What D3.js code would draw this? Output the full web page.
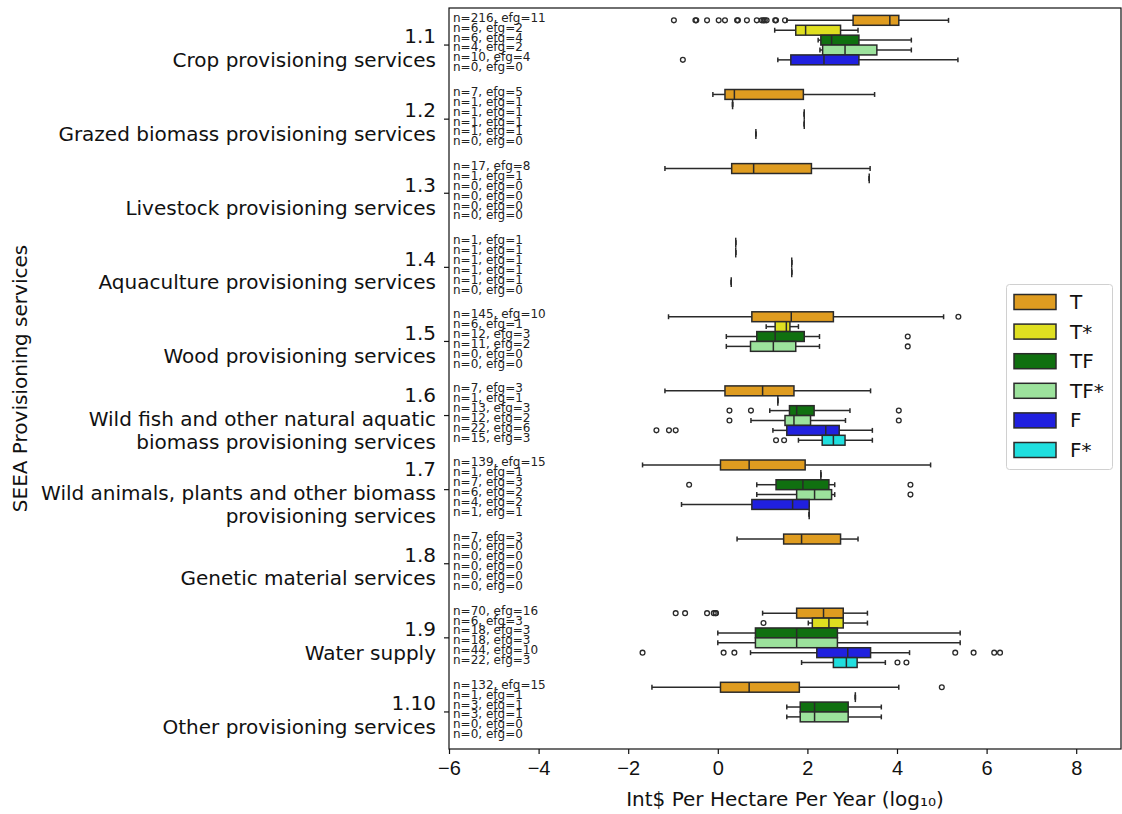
<!DOCTYPE html>
<html>
<head>
<meta charset="utf-8">
<script src="https://cdn.jsdelivr.net/npm/d3@7"></script>
<style>
  body { margin: 0; background: #fff; }
  svg { font-family: "DejaVu Sans", sans-serif; }
</style>
</head>
<body>
<svg id="chart" width="1122" height="814"></svg>
<script>
const codes = ["1.1", "1.2", "1.3", "1.4", "1.5", "1.6", "1.7", "1.8", "1.9", "1.10"];
const names = [
  ["Crop provisioning services"],
  ["Grazed biomass provisioning services"],
  ["Livestock provisioning services"],
  ["Aquaculture provisioning services"],
  ["Wood provisioning services"],
  ["Wild fish and other natural aquatic", "biomass provisioning services"],
  ["Wild animals, plants and other biomass", "provisioning services"],
  ["Genetic material services"],
  ["Water supply"],
  ["Other provisioning services"]
];
const hues = ["T", "T*", "TF", "TF*", "F", "F*"];
const hueColors = ["#df9c20", "#dfdf20", "#107010", "#9ce29c", "#2020df", "#20dfdf"];

// per category, one value per hue
const nCounts = [
  [216, 6, 6, 4, 10, 0], [7, 1, 1, 1, 1, 0], [17, 1, 0, 0, 0, 0], [1, 1, 1, 1, 1, 0],
  [145, 6, 12, 11, 0, 0], [7, 1, 13, 12, 22, 15], [139, 1, 7, 6, 4, 1], [7, 0, 0, 0, 0, 0],
  [70, 6, 18, 18, 44, 22], [132, 1, 3, 3, 0, 0]
];
const efgCounts = [
  [11, 2, 4, 2, 4, 0], [5, 1, 1, 1, 1, 0], [8, 1, 0, 0, 0, 0], [1, 1, 1, 1, 1, 0],
  [10, 1, 3, 2, 0, 0], [3, 1, 3, 2, 6, 3], [15, 1, 3, 2, 2, 1], [3, 0, 0, 0, 0, 0],
  [16, 3, 3, 3, 10, 3], [15, 1, 1, 1, 0, 0]
];

// [whiskerLow, q1, median, q3, whiskerHigh, outliers]; a plain number = single value; null = no data
const s11 = [
  [1.54, 3.02, 3.84, 4.04, 5.15, [-0.98, -0.50, -0.48, -0.24, 0.02, 0.16, 0.43, 0.45, 0.65, 0.87, 0.98, 1.02, 1.05, 1.09, 1.28, 1.30, 1.50]],
  [1.27, 1.74, 1.96, 2.74, 3.13, []],
  [2.24, 2.30, 2.54, 3.15, 4.32, []],
  [2.28, 2.34, 2.84, 3.55, 4.32, []],
  [1.34, 1.63, 2.37, 3.15, 5.36, [-0.78]],
  null
];
const s12 = [[-0.11, 0.16, 0.37, 1.91, 3.50, []], 0.33, 1.93, 1.93, 0.85, null];
const s13 = [[-1.18, 0.31, 0.80, 2.09, 3.40, []], 3.38, null, null, null, null];
const s14 = [0.40, 0.40, 1.65, 1.65, 0.30, null];
const s15 = [
  [-1.10, 0.76, 1.64, 2.58, 5.04, [5.37]],
  [1.08, 1.28, 1.53, 1.61, 1.80, []],
  [0.19, 0.87, 1.28, 1.93, 2.27, [4.24]],
  [0.19, 0.73, 1.24, 1.74, 2.27, [4.24]],
  null, null
];
const s16 = [
  [-1.18, 0.16, 1.00, 1.70, 3.41, []],
  1.34,
  [1.16, 1.60, 1.76, 2.15, 2.95, [0.26, 0.74, 4.04]],
  [0.74, 1.50, 1.70, 2.07, 2.85, [0.26, 4.04]],
  [1.23, 1.54, 2.41, 2.71, 3.45, [-1.37, -1.09, -0.94]],
  [1.80, 2.33, 2.58, 2.84, 3.45, [1.30, 1.48]]
];
const s17 = [
  [-1.68, 0.06, 0.70, 1.95, 4.75, []],
  2.30,
  [0.87, 1.30, 1.90, 2.48, 2.61, [-0.64, 4.30]],
  [0.87, 1.76, 2.16, 2.54, 2.61, [4.30]],
  [-0.81, 0.76, 1.67, 2.04, 2.04, []],
  2.04
];
const s18 = [[0.43, 1.47, 1.87, 2.74, 3.13, []], null, null, null, null, null];
const s19 = [
  [1.00, 1.76, 2.36, 2.80, 3.34, [-0.94, -0.73, -0.24, -0.09, -0.05, -0.04]],
  [2.02, 2.11, 2.48, 2.80, 3.34, [1.02]],
  [0.00, 0.84, 1.76, 2.67, 5.41, []],
  [0.00, 0.84, 1.76, 2.67, 5.41, []],
  [0.73, 2.21, 2.90, 3.41, 4.28, [-1.68, 0.13, 0.37, 5.30, 5.71, 6.17, 6.30]],
  [1.87, 2.58, 2.87, 3.11, 3.74, [4.01, 4.21]]
];
const s110 = [
  [-1.47, 0.06, 0.70, 1.82, 4.04, [5.00]],
  3.07,
  [1.54, 1.84, 2.16, 2.91, 3.65, []],
  [1.54, 1.84, 2.16, 2.91, 3.65, []],
  null, null
];
const stats = [s11, s12, s13, s14, s15, s16, s17, s18, s19, s110];
const xTicks = [-6, -4, -2, 0, 2, 4, 6, 8];

const svg = d3.select("#chart");
const margin = { left: 449, right: 1121, top: 8, bottom: 749 };
const lineColor = "#2a2a2a";
const fs = 20;

const x = d3.scaleLinear().domain([-6, 9]).range([margin.left, margin.right]);
const y = d3.scaleBand().domain(codes).range([margin.top, margin.bottom]);
const bw = y.bandwidth();
const hy = d3.scaleBand().domain(hues).range([-0.4 * bw, 0.4 * bw]);
const hh = hy.bandwidth();

// boxes
const boxes = [];
stats.forEach((row, ci) => {
  row.forEach((s, hi) => {
    if (s === null) return;
    if (typeof s === "number") s = [s, s, s, s, s, []];
    boxes.push({ ci, hi, s, cy: y(codes[ci]) + bw / 2 + hy(hues[hi]) + hh / 2 });
  });
});

const g = svg.append("g");
const bg = g.selectAll("g.box").data(boxes).join("g").attr("class", "box");

bg.append("line")
  .attr("x1", d => x(d.s[0])).attr("x2", d => x(d.s[1]))
  .attr("y1", d => d.cy).attr("y2", d => d.cy);
bg.append("line")
  .attr("x1", d => x(d.s[3])).attr("x2", d => x(d.s[4]))
  .attr("y1", d => d.cy).attr("y2", d => d.cy);
bg.selectAll("line.cap").data(d => [d.s[0], d.s[4]].map(v => ({ v, cy: d.cy })))
  .join("line").attr("class", "cap")
  .attr("x1", d => x(d.v)).attr("x2", d => x(d.v))
  .attr("y1", d => d.cy - hh / 4).attr("y2", d => d.cy + hh / 4);
bg.selectAll("line").attr("stroke", lineColor).attr("stroke-width", 1.5);

bg.append("rect")
  .attr("x", d => x(d.s[1]))
  .attr("width", d => x(d.s[3]) - x(d.s[1]))
  .attr("y", d => d.cy - hh / 2)
  .attr("height", hh)
  .attr("fill", d => hueColors[d.hi])
  .attr("stroke", lineColor)
  .attr("stroke-width", 1.5);
bg.append("line")
  .attr("x1", d => x(d.s[2])).attr("x2", d => x(d.s[2]))
  .attr("y1", d => d.cy - hh / 2).attr("y2", d => d.cy + hh / 2)
  .attr("stroke", lineColor).attr("stroke-width", 1.5);
bg.selectAll("circle").data(d => d.s[5].map(v => ({ v, cy: d.cy })))
  .join("circle")
  .attr("cx", d => x(d.v)).attr("cy", d => d.cy).attr("r", 2.4)
  .attr("fill", "none").attr("stroke", lineColor).attr("stroke-width", 1.3);

// n / efg annotations
const ann = [];
codes.forEach((c, ci) => hues.forEach((h, hi) => {
  ann.push({ text: `n=${nCounts[ci][hi]}, efg=${efgCounts[ci][hi]}`, cy: y(c) + bw / 2 + hy(h) + hh / 2 });
}));
svg.append("g").selectAll("text").data(ann).join("text")
  .attr("x", margin.left + 4).attr("y", d => d.cy + 1.5)
  .attr("font-size", 12).attr("fill", "#222")
  .text(d => d.text);

// axes
const xAxis = svg.append("g")
  .attr("transform", `translate(0,${margin.bottom})`)
  .call(d3.axisBottom(x).tickValues(xTicks).tickSize(5).tickPadding(7).tickSizeOuter(0));
xAxis.select(".domain").remove();
xAxis.selectAll("text").attr("font-size", fs).attr("fill", "#111");
xAxis.selectAll("line").attr("stroke", "#111").attr("stroke-width", 1.2);

const yAxis = svg.append("g")
  .attr("transform", `translate(${margin.left},0)`)
  .call(d3.axisLeft(y).tickSize(5).tickFormat(""));
yAxis.select(".domain").remove();
yAxis.selectAll("line").attr("stroke", "#111").attr("stroke-width", 1.2);

const lineGap = 23.4;
codes.forEach((c, ci) => {
  const lines = [c].concat(names[ci]);
  const ty = y(c) + bw / 2;
  const first = ty - (lines.length - 1) * lineGap / 2 + 10;
  const t = svg.append("text")
    .attr("text-anchor", "end").attr("font-size", fs).attr("fill", "#111");
  lines.forEach((l, i) => {
    t.append("tspan").attr("x", 436).attr("y", first + i * lineGap).text(l);
  });
});

// frame
svg.append("rect")
  .attr("x", margin.left).attr("y", margin.top)
  .attr("width", margin.right - margin.left).attr("height", margin.bottom - margin.top)
  .attr("fill", "none").attr("stroke", "#111").attr("stroke-width", 1.2);

// titles
svg.append("text")
  .attr("x", (margin.left + margin.right) / 2).attr("y", 806)
  .attr("text-anchor", "middle").attr("font-size", fs).attr("fill", "#111")
  .text("Int$ Per Hectare Per Year (log₁₀)");
svg.append("text")
  .attr("transform", `translate(27,${(margin.top + margin.bottom) / 2}) rotate(-90)`)
  .attr("text-anchor", "middle").attr("font-size", fs).attr("fill", "#111")
  .text("SEEA Provisioning services");

// legend
const lg = svg.append("g");
lg.append("rect")
  .attr("x", 1006.5).attr("y", 284.5).attr("width", 106).attr("height", 185).attr("rx", 3)
  .attr("fill", "white").attr("fill-opacity", 0.85).attr("stroke", "#d0d0d0");
const ly = d3.scalePoint().domain(hues).range([302, 450]);
const li = lg.selectAll("g.item").data(hues).join("g").attr("class", "item")
  .attr("transform", d => `translate(0,${ly(d)})`);
li.append("rect")
  .attr("x", 1014).attr("y", -7.5).attr("width", 42).attr("height", 15)
  .attr("fill", (d, i) => hueColors[i]).attr("stroke", lineColor).attr("stroke-width", 1.5);
li.append("text")
  .attr("x", 1070).attr("y", 7).attr("font-size", fs).attr("fill", "#111")
  .text(d => d);
</script>
</body>
</html>
